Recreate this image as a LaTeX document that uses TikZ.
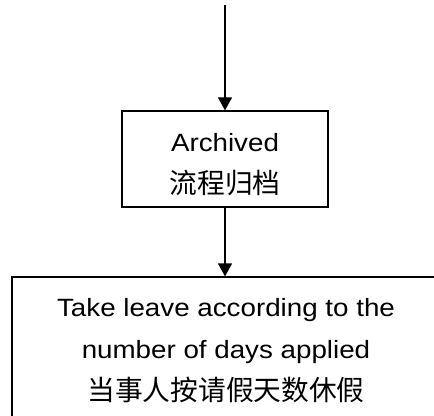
\documentclass[tikz,border=0pt]{standalone}
\usepackage{fontspec}
\setmainfont{Liberation Sans}[FakeStretch=1.11]
\newfontfamily\cjk{Noto Sans CJK SC}
\usetikzlibrary{arrows.meta}
\newcommand{\zh}[1]{{\cjk\fontsize{20.8pt}{31.5pt}\selectfont #1}}
\begin{document}
\begin{tikzpicture}[x=0.75pt,y=-0.75pt,
  boxnode/.style={draw=black,line width=0.9pt,align=center,inner sep=0pt,
    font=\fontsize{18.75pt}{31.5pt}\selectfont},
  arr/.style={draw=black,line width=0.9pt,-{Triangle[length=9.75pt,width=10.5pt]}}]
\useasboundingbox (0,0) rectangle (434,416);
\clip (0,0) rectangle (434,416);
\coordinate (top) at (225,5);
\node[boxnode,minimum width=154.5pt,minimum height=72pt] (arch) at (225,159)
  {\rule{0pt}{22pt}Archived\\\zh{流程归档}};
\node[boxnode,minimum width=321pt,minimum height=111pt] (leave) at (226,351)
  {Take leave according to the\\number of days applied\\\zh{当事人按请假天数休假}};
\draw[arr] (top) -- (arch.north);
\draw[arr] (arch.south) -- (arch.south|-leave.north);
\end{tikzpicture}
\end{document}
